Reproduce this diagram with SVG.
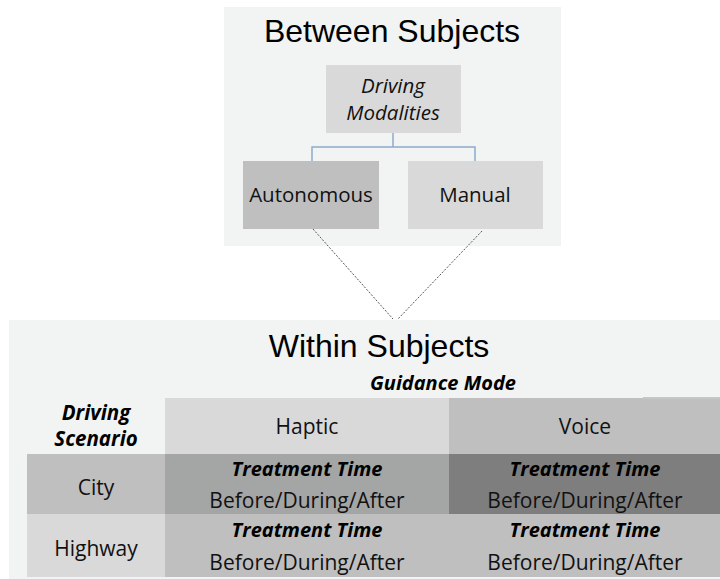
<svg xmlns="http://www.w3.org/2000/svg" width="720" height="579" viewBox="0 0 720 579">
<style>
.panel{fill:#f2f3f3}
.title{font-family:"Liberation Sans",Arial,sans-serif;font-size:32px;fill:#000;text-anchor:middle}
.lbl{font-family:"Open Sans","Noto Sans",sans-serif;font-size:20.5px;fill:#111;text-anchor:middle}
.it{font-style:italic;font-size:20.5px}
.bi{font-family:"Open Sans","Noto Sans",sans-serif;font-size:20px;font-weight:bold;font-style:italic;fill:#000;text-anchor:middle}
.cell{font-family:"Open Sans","Noto Sans",sans-serif;font-size:21px;fill:#111;text-anchor:middle}
.conn{fill:none;stroke:#8eaacb;stroke-width:1.5}
.dot{fill:none;stroke:#555;stroke-width:1;stroke-dasharray:2 1.5}
</style>
<rect width="720" height="579" fill="#fff"/>
<g id="between-panel">
<rect class="panel" x="224" y="7" width="337" height="239"/>
<text class="title" x="392" y="42">Between Subjects</text>
</g>
<g id="within-panel">
<rect class="panel" x="9" y="320" width="711" height="259"/>
<text class="title" x="379" y="357">Within Subjects</text>
</g>
<g id="connectors">
<path class="conn" d="M393 133V147M312 161V147H475V161"/>
<path class="dot" d="M313 229L393 319M482 231L398 319"/>
</g>
<g id="driving-modalities">
<rect x="326" y="65" width="135" height="68" fill="#d9d9d9"/>
<text class="lbl it" x="393" y="93">Driving</text>
<text class="lbl it" x="393" y="120">Modalities</text>
</g>
<g id="autonomous">
<rect x="243" y="161" width="136" height="68" fill="#bfbfbf"/>
<text class="lbl" x="311" y="202">Autonomous</text>
</g>
<g id="manual">
<rect x="408" y="161" width="135" height="68" fill="#d9d9d9"/>
<text class="lbl" x="475" y="202">Manual</text>
</g>
<g id="guidance-mode">
<text class="bi" x="443" y="390">Guidance Mode</text>
</g>
<g id="driving-scenario">
<text class="bi" x="96" y="420" style="font-size:20.5px">Driving</text>
<text class="bi" x="96" y="446" style="font-size:20.5px">Scenario</text>
</g>
<g id="haptic">
<rect x="165" y="398" width="284" height="56" fill="#d9d9d9"/>
<text class="cell" x="307" y="434">Haptic</text>
</g>
<g id="voice">
<rect x="449" y="398" width="271" height="56" fill="#bfbfbf"/>
<rect x="643" y="397" width="77" height="2" fill="#c6c6c6"/>
<text class="cell" x="585" y="434">Voice</text>
</g>
<g id="city">
<rect x="27" y="454" width="138" height="60" fill="#bfbfbf"/>
<text class="cell" x="96" y="495">City</text>
</g>
<g id="highway">
<rect x="27" y="514" width="138" height="63" fill="#d9d9d9"/>
<text class="cell" x="96" y="556">Highway</text>
</g>
<g id="haptic-city">
<rect x="165" y="454" width="284" height="60" fill="#a4a5a5"/>
<text class="bi" x="307" y="476">Treatment Time</text>
<text class="cell" x="307" y="508">Before/During/After</text>
</g>
<g id="voice-city">
<rect x="449" y="454" width="271" height="60" fill="#7e7e7e"/>
<text class="bi" x="585" y="476">Treatment Time</text>
<text class="cell" x="585" y="508">Before/During/After</text>
</g>
<g id="haptic-highway">
<rect x="165" y="514" width="284" height="63" fill="#bfbfbf"/>
<text class="bi" x="307" y="537">Treatment Time</text>
<text class="cell" x="307" y="570">Before/During/After</text>
</g>
<g id="voice-highway">
<rect x="449" y="514" width="271" height="63" fill="#bfbfbf"/>
<text class="bi" x="585" y="537">Treatment Time</text>
<text class="cell" x="585" y="570">Before/During/After</text>
</g>
</svg>
